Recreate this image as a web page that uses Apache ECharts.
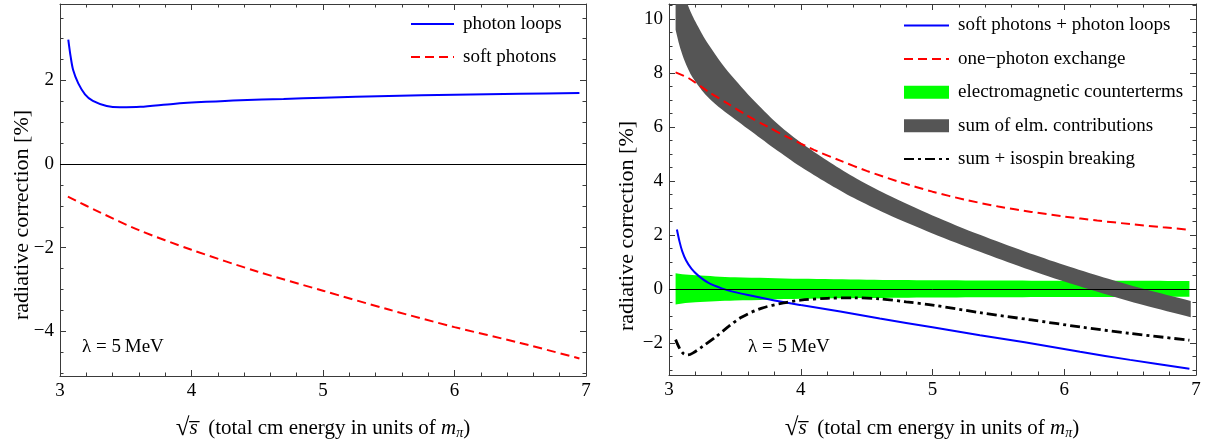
<!DOCTYPE html>
<html><head><meta charset="utf-8">
<script src="https://cdn.jsdelivr.net/npm/echarts@6/dist/echarts.min.js"></script>
<style>html,body{margin:0;padding:0;background:#fff}#c{width:1205px;height:445px}</style>
</head><body><div id="c"></div>
<script>
// ---------- tick labels ----------
const xMajorTicks = [3, 4, 5, 6, 7];
const leftYMajorTicks = [-4, -2, 0, 2];
const rightYMajorTicks = [-2, 0, 2, 4, 6, 8, 10];

// ---------- left panel ----------
const loopsX = [3.063, 3.081, 3.10, 3.139, 3.19, 3.25, 3.355, 3.456, 3.61, 3.86, 4.11, 4.37, 4.7, 5.0, 5.5, 6.0, 6.5, 6.95];
const loopsY = [2.98, 2.57, 2.25, 1.93, 1.67, 1.51, 1.39, 1.36, 1.37, 1.44, 1.49, 1.53, 1.56, 1.59, 1.63, 1.66, 1.68, 1.70];
const softX = [3.06, 3.3, 3.6, 4.0, 4.5, 5.0, 5.5, 6.0, 6.5, 6.95];
const softY = [-0.78, -1.15, -1.58, -2.05, -2.57, -3.03, -3.48, -3.9, -4.28, -4.65];

// ---------- right panel ----------
const sumLoopsX = [3.06, 3.08, 3.10, 3.13, 3.17, 3.22, 3.3, 3.4, 3.5, 3.6, 3.8, 4.0, 4.3, 4.6, 5.0, 5.36, 5.7, 6.12, 6.5, 6.95];
const sumLoopsY = [2.2, 1.75, 1.4, 1.05, 0.75, 0.5, 0.22, 0.02, -0.12, -0.23, -0.43, -0.6, -0.84, -1.1, -1.42, -1.72, -1.98, -2.33, -2.63, -2.96];
const opeX = [3.05, 3.15, 3.3, 3.45, 3.6, 3.75, 3.9, 4.1, 4.3, 4.5, 4.75, 5.0, 5.25, 5.5, 5.75, 6.0, 6.25, 6.5, 6.75, 6.95];
const opeY = [8.02, 7.8, 7.3, 6.85, 6.4, 6.0, 5.62, 5.15, 4.75, 4.37, 3.96, 3.6, 3.3, 3.05, 2.85, 2.68, 2.53, 2.4, 2.28, 2.19];
const ctX = [3.05, 3.1, 3.2, 3.35, 3.5, 3.75, 4.0, 4.5, 5.0, 5.5, 6.0, 6.5, 6.95];
const ctHigh = [0.58, 0.54, 0.5, 0.46, 0.43, 0.4, 0.37, 0.34, 0.32, 0.31, 0.30, 0.30, 0.29];
const ctLow = [-0.58, -0.54, -0.5, -0.46, -0.43, -0.4, -0.37, -0.34, -0.32, -0.31, -0.30, -0.30, -0.29];
const elmX = [3.05, 3.08, 3.11, 3.14, 3.17, 3.2, 3.25, 3.3, 3.4, 3.5, 3.6, 3.7, 3.8, 3.9, 4.0, 4.2, 4.4, 4.65, 5.0, 5.36, 5.7, 6.0, 6.3, 6.6, 6.96];
const elmHigh = [12.2, 11.5, 11.0, 10.55, 10.2, 9.9, 9.45, 9.05, 8.35, 7.75, 7.2, 6.7, 6.22, 5.8, 5.42, 4.75, 4.15, 3.5, 2.72, 2.0, 1.38, 0.88, 0.42, 0.0, -0.45];
const elmLow = [9.6, 9.0, 8.55, 8.2, 7.9, 7.68, 7.35, 7.08, 6.65, 6.28, 5.92, 5.56, 5.2, 4.86, 4.52, 3.92, 3.37, 2.78, 2.05, 1.37, 0.76, 0.27, -0.18, -0.6, -1.05];
const isoX = [3.05, 3.08, 3.11, 3.14, 3.18, 3.25, 3.35, 3.45, 3.55, 3.7, 3.87, 4.0, 4.2, 4.4, 4.6, 4.8, 5.0, 5.36, 5.75, 6.12, 6.5, 6.95];
const isoY = [-1.88, -2.2, -2.4, -2.45, -2.38, -2.15, -1.8, -1.4, -1.05, -0.72, -0.52, -0.42, -0.35, -0.33, -0.37, -0.48, -0.6, -0.88, -1.15, -1.41, -1.65, -1.9];

const FONT = '"Liberation Serif", "Times New Roman", serif';
const FRAME = '#3a3a3a';
const zip = (xs, ys) => xs.map((x, i) => [x, ys[i]]);
const fmt = v => (v < 0 ? '\u2212' + (-v) : String(v));
function minorList(a, b, step, majors) {
  const out = [];
  for (let v = a; v <= b + 1e-9; v += step) {
    const r = Math.round(v * 100) / 100;
    if (!majors.some(m => Math.abs(m - r) < 1e-6)) out.push(r);
  }
  return out;
}
const xMinor = minorList(3, 7, 0.2, xMajorTicks);
const leftYMinor = minorList(-5, 3.5, 0.5, leftYMajorTicks);
const rightYMinor = minorList(-3, 10.5, 0.5, rightYMajorTicks);

function axes(isX, gridIndex, min, max, major, minor) {
  const pA = isX ? 'bottom' : 'left', pB = isX ? 'top' : 'right';
  const base = () => ({
    type: 'value', gridIndex, min, max, splitLine: { show: false },
    axisLine: { show: true, onZero: false, lineStyle: { color: FRAME, width: 1 } }
  });
  const tick = (vals, len) => ({ show: true, inside: true, length: len, customValues: vals, lineStyle: { color: FRAME, width: 1 } });
  const lab = {
    show: true, customValues: major, formatter: fmt, fontFamily: FONT, fontSize: 19, color: '#000',
    margin: 6
  };
  return [
    Object.assign(base(), { position: pA, axisTick: tick(major, 6), axisLabel: lab }),
    Object.assign(base(), { position: pA, axisLine: { show: false, onZero: false }, axisTick: tick(minor, 3.5), axisLabel: { show: false } }),
    Object.assign(base(), { position: pB, axisTick: tick(major, 6), axisLabel: { show: false } }),
    Object.assign(base(), { position: pB, axisLine: { show: false, onZero: false }, axisTick: tick(minor, 3.5), axisLabel: { show: false } })
  ];
}

const xAxis = [].concat(axes(true, 0, 3, 7, xMajorTicks, xMinor), axes(true, 1, 3, 7, xMajorTicks, xMinor));
const yAxis = [].concat(axes(false, 0, -5.07, 3.83, leftYMajorTicks, leftYMinor), axes(false, 1, -3.19, 10.55, rightYMajorTicks, rightYMinor));

function line(name, xs, ys, color, width, dash, xi, yi, z) {
  return {
    type: 'line', name, xAxisIndex: xi, yAxisIndex: yi, data: zip(xs, ys), symbol: 'none', smooth: 0.3,
    lineStyle: { color, width, type: dash || 'solid', cap: 'butt' }, itemStyle: { color }, z: z || 3, clip: true
  };
}
// band: polygon through the upper edge then the lower edge, corners doubled so only the edges are smoothed
function band(name, xs, lo, hi, color, xi, yi, z) {
  return {
    type: 'custom', name, xAxisIndex: xi, yAxisIndex: yi, data: [[xs[0], lo[0]]], itemStyle: { color }, z: z || 2,
    renderItem: (params, api) => {
      const n = xs.length, pts = [];
      pts.push(api.coord([xs[0], hi[0]]));
      for (let i = 0; i < n; i++) pts.push(api.coord([xs[i], hi[i]]));
      pts.push(api.coord([xs[n - 1], hi[n - 1]]));
      pts.push(api.coord([xs[n - 1], lo[n - 1]]));
      for (let i = n - 1; i >= 0; i--) pts.push(api.coord([xs[i], lo[i]]));
      pts.push(api.coord([xs[0], lo[0]]));
      const cs = params.coordSys;
      return {
        type: 'polygon', shape: { points: pts, smooth: 0.3 }, style: { fill: color, stroke: null },
        clipPath: { type: 'rect', shape: { x: cs.x, y: cs.y, width: cs.width, height: cs.height } }
      };
    }
  };
}
const zeroLine = {
  silent: true, symbol: ['none', 'none'], label: { show: false },
  lineStyle: { color: '#000', width: 1, type: 'solid' }, data: [{ yAxis: 0 }]
};

const series = [
  line('photon loops', loopsX, loopsY, '#0000ff', 2, null, 0, 0),
  Object.assign(line('soft photons', softX, softY, '#ff0000', 2, [9, 5], 0, 0), { markLine: zeroLine }),
  band('electromagnetic counterterms', ctX, ctLow, ctHigh, '#00ff00', 4, 4, 1),
  band('sum of elm. contributions', elmX, elmLow, elmHigh, '#555555', 4, 4, 2),
  line('soft photons + photon loops', sumLoopsX, sumLoopsY, '#0000ff', 2, null, 4, 4),
  line('one\u2212photon exchange', opeX, opeY, '#ff0000', 2, [9, 5], 4, 4),
  Object.assign(line('sum + isospin breaking', isoX, isoY, '#000000', 2.8, [10, 4, 3, 4], 4, 4), { markLine: zeroLine, z: 4 })
];

const legendText = { fontFamily: FONT, fontSize: 19, color: '#000', padding: [0, 0, 0, 4] };
const legend = [
  {
    orient: 'vertical', left: 410, top: 14.5, padding: 0, itemWidth: 43, itemHeight: 13, itemGap: 14, selectedMode: false,
    itemStyle: { opacity: 0 }, textStyle: legendText, data: ['photon loops', 'soft photons']
  },
  {
    orient: 'vertical', left: 903, top: 16, padding: 0, itemWidth: 45, itemHeight: 13, itemGap: 14.4, selectedMode: false,
    itemStyle: { opacity: 0 }, textStyle: legendText,
    data: [
      'soft photons + photon loops', 'one\u2212photon exchange',
      { name: 'electromagnetic counterterms', icon: 'rect', itemStyle: { opacity: 1, color: '#00ff00' } },
      { name: 'sum of elm. contributions', icon: 'rect', itemStyle: { opacity: 1, color: '#555555' } },
      'sum + isospin breaking'
    ]
  }
];

const xTitleRich = {
  r: { fontFamily: FONT, fontSize: 25, color: '#000' },
  s: { fontFamily: FONT, fontSize: 21, fontStyle: 'italic', color: '#000' },
  t: { fontFamily: FONT, fontSize: 21, color: '#000' },
  m: { fontFamily: FONT, fontSize: 21, fontStyle: 'italic', color: '#000' },
  p: { fontFamily: FONT, fontSize: 14, fontStyle: 'italic', color: '#000', verticalAlign: 'bottom', padding: [7, 0, 0, 0] }
};
const xTitle = '{r|\u221a}{s|s\u0305}{t|  (total cm energy in units of }{m|m}{p|\u03c0}{t|)}';
function textEl(x, y, text, opts) {
  return { type: 'text', x, y, silent: true, style: Object.assign({ text, fontFamily: FONT, fontSize: 19, fill: '#000', align: 'center', verticalAlign: 'middle' }, opts || {}) };
}
const graphic = [
  Object.assign(textEl(22, 215, 'radiative correction [%]', { fontSize: 22 }), { rotation: Math.PI / 2 }),
  Object.assign(textEl(627, 226, 'radiative correction [%]', { fontSize: 22 }), { rotation: Math.PI / 2 }),
  textEl(82, 347, '\u03bb = 5\u2009MeV', { align: 'left' }),
  textEl(748, 347, '\u03bb = 5\u2009MeV', { align: 'left' }),
  { type: 'text', x: 323, y: 428, silent: true, style: { text: xTitle, rich: xTitleRich, align: 'center', verticalAlign: 'middle' } },
  { type: 'text', x: 932, y: 428, silent: true, style: { text: xTitle, rich: xTitleRich, align: 'center', verticalAlign: 'middle' } }
];

const chart = echarts.init(document.getElementById('c'), null, { renderer: 'canvas' });
chart.setOption({
  animation: false,
  backgroundColor: '#ffffff',
  grid: [
    { left: 60, top: 4, width: 526, height: 372, containLabel: false },
    { left: 669, top: 4, width: 527, height: 371, containLabel: false }
  ],
  xAxis, yAxis, series, legend, graphic
});
</script>
</body></html>
